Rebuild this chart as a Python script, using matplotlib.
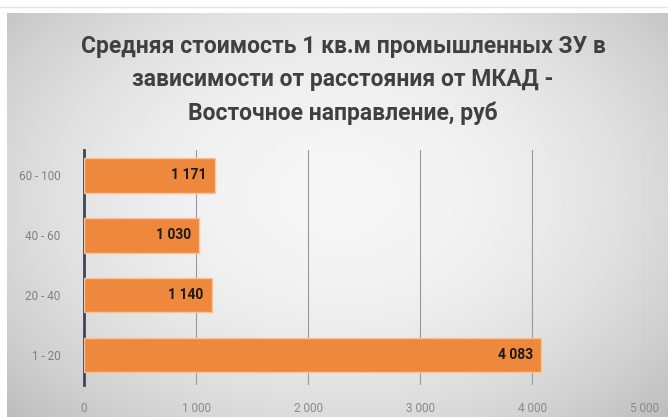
import numpy as np
import matplotlib
matplotlib.use("Agg")
import matplotlib.pyplot as plt

categories = ["1 - 20", "20 - 40", "40 - 60", "60 - 100"]
values = [4083, 1140, 1030, 1171]
value_labels = ["4 083", "1 140", "1 030", "1 171"]
xticks = [0, 1000, 2000, 3000, 4000, 5000]
xtick_labels = ["0", "1 000", "2 000", "3 000", "4 000", "5 000"]
title = "Средняя стоимость 1 кв.м промышленных ЗУ в\nзависимости от расстояния от МКАД -\nВосточное направление, руб"

title_font = "Roboto"

W, H = 668, 417
fig = plt.figure(figsize=(W / 100, H / 100), dpi=100)
fig.patch.set_facecolor("white")

# background gradient panel
bg = fig.add_axes([7 / W, 0, 1 - 7 / W, 1 - 13 / H], zorder=-10)
yy, xx = np.mgrid[0:1:200j, 0:1:300j]
r = np.sqrt(((xx - 0.5) / 0.6) ** 2 + ((yy - 0.45) / 0.7) ** 2)
img = 0.965 - 0.17 * np.clip(r, 0, 1.2) ** 2
bg.imshow(img, cmap="gray", vmin=0, vmax=1, aspect="auto", extent=[0, 1, 0, 1])
bg.axis("off")
fig.add_artist(plt.Line2D([0, 1], [1 - 7 / H, 1 - 7 / H], color="#e6e6e6", lw=1))

ax = fig.add_axes([84 / W, 1 - 385 / H, (644 - 84) / W, (385 - 150) / H])
ax.set_facecolor("none")
y = np.arange(len(categories))
ax.barh(y, values, height=0.58, color="#EE883C", edgecolor="#F6C49A", linewidth=1.0, zorder=3)
for yi, v, lab in zip(y, values, value_labels):
    ax.text(v - 75, yi, lab, ha="right", va="center", fontsize=10,
            fontweight="bold", color="#1a1a1a", zorder=4, family=title_font)
ax.set_xlim(0, 5000)
ax.set_ylim(-0.5, 3.42)
ax.set_yticks(y)
ax.set_yticklabels(categories, fontsize=8.5, color="#808080", family=title_font)
ax.set_xticks(xticks)
ax.set_xticklabels(xtick_labels, fontsize=8.5, color="#8a8a8a", family=title_font)
ax.tick_params(length=0, pad=12)
ax.tick_params(axis="y", pad=17)
for xv in xticks[1:]:
    ax.axvline(xv, color="#999999", lw=0.8, zorder=1)
for s in ["top", "right", "bottom"]:
    ax.spines[s].set_visible(False)
ax.spines["left"].set_color("#3c4654")
ax.spines["left"].set_linewidth(2)

fig.text(343 / W, 1 - 80 / H, title, ha="center", va="center", fontsize=16.5,
         fontweight="bold", color="#404040", family=title_font, linespacing=1.55)

fig.savefig("out.png", dpi=100)
